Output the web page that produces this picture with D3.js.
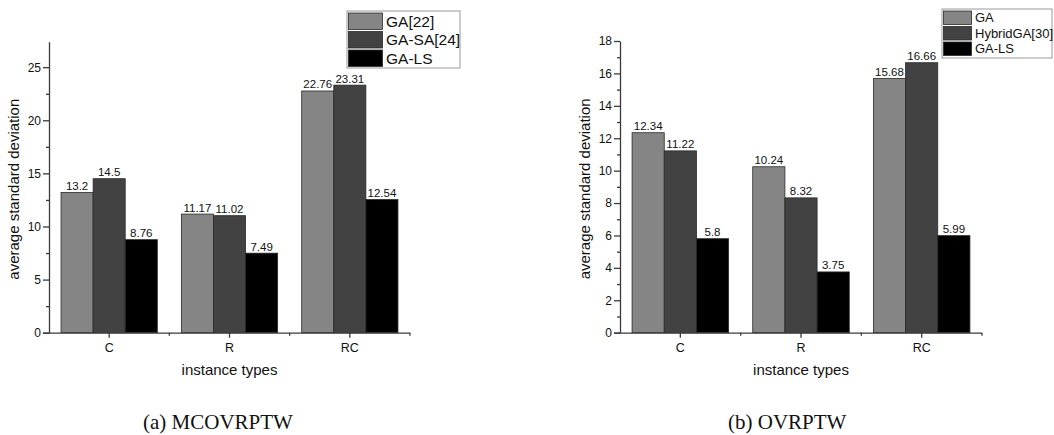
<!DOCTYPE html>
<html>
<head>
<meta charset="utf-8">
<script src="https://cdn.jsdelivr.net/npm/d3@7"></script>
<style>
  body { margin: 0; background: #fff; }
  svg { display: block; font-family: "Liberation Sans", Arial, sans-serif; }
</style>
</head>
<body>
<svg id="chart" width="1054" height="435"></svg>
<script>
// data
const categories = ["C", "R", "RC"];
const colors = ["#858585", "#424242", "#000000"];

const leftSeries = ["GA[22]", "GA-SA[24]", "GA-LS"];
const leftGA = [13.2, 11.17, 22.76];
const leftGASA = [14.5, 11.02, 23.31];
const leftGALS = [8.76, 7.49, 12.54];
const leftTicks = [0, 5, 10, 15, 20, 25];

const rightSeries = ["GA", "HybridGA[30]", "GA-LS"];
const rightGA = [12.34, 10.24, 15.68];
const rightHybrid = [11.22, 8.32, 16.66];
const rightGALS = [5.8, 3.75, 5.99];
const rightTicks = [0, 2, 4, 6, 8, 10, 12, 14, 16, 18];

const svg = d3.select("#chart");

function drawPanel(p) {
    const g = svg.append("g");
    const y = d3.scaleLinear().domain([0, p.yMax]).range([p.y0, p.yTop]);
    const x0 = d3.scaleBand().domain(categories).range([p.xl, p.xr]);
    const bw = x0.bandwidth();
    const x1 = d3.scaleBand().domain(p.series).range([0.1 * bw, 0.9 * bw]);

    // bars
    p.series.forEach((s, si) => {
        const vals = p.values[si];
        g.selectAll(null).data(categories).enter().append("rect")
            .attr("x", c => x0(c) + x1(s))
            .attr("y", (c, i) => y(vals[i]))
            .attr("width", x1.bandwidth())
            .attr("height", (c, i) => p.y0 - y(vals[i]))
            .attr("fill", colors[si])
            .attr("stroke", "#2a2a2a")
            .attr("stroke-width", 0.8);
        g.selectAll(null).data(categories).enter().append("text")
            .attr("x", c => x0(c) + x1(s) + x1.bandwidth() / 2)
            .attr("y", (c, i) => y(vals[i]) - 2.5)
            .attr("text-anchor", "middle")
            .attr("font-size", "11.5px")
            .attr("fill", "#111")
            .text((c, i) => vals[i]);
    });

    // y axis
    const yAxis = g.append("g").attr("transform", `translate(${p.xl},0)`)
        .call(d3.axisLeft(y).tickValues(p.ticks).tickSize(6).tickSizeOuter(0).tickPadding(2));
    g.append("g").attr("transform", `translate(${p.xl},0)`)
        .call(d3.axisLeft(y).tickValues(p.minor).tickSize(3).tickSizeOuter(0).tickFormat(""))
        .select(".domain").remove();
    yAxis.selectAll("text").attr("font-size", "12px").attr("fill", "#111");

    // x axis
    const xAxis = g.append("g").attr("transform", `translate(0,${p.y0})`)
        .call(d3.axisBottom(x0).tickSize(5).tickSizeOuter(0).tickPadding(5));
    xAxis.select(".domain").attr("d", `M${p.xl - 6},0.5H${p.xr}`);
    xAxis.selectAll("text").attr("font-size", "12.5px").attr("fill", "#111");
    const bounds = categories.map(c => x0(c)).concat([p.xr]).slice(1);
    xAxis.selectAll(".minor").data(bounds).enter().append("line")
        .attr("class", "minor")
        .attr("x1", d => d).attr("x2", d => d)
        .attr("y1", 0).attr("y2", 3);

    g.selectAll(".domain, .tick line, .minor")
        .attr("stroke", "#3a3a3a").attr("stroke-width", 1.3);

    // axis titles
    g.append("text")
        .attr("transform", `translate(${p.xl - 30},${(p.y0 + p.yTop) / 2 + 2}) rotate(-90)`)
        .attr("text-anchor", "middle")
        .attr("font-size", "15px")
        .attr("fill", "#111")
        .text("average standard deviation");
    g.append("text")
        .attr("x", (p.xl + p.xr) / 2)
        .attr("y", 375)
        .attr("text-anchor", "middle")
        .attr("font-size", "15px")
        .attr("fill", "#111")
        .text("instance types");

    // legend
    const L = p.legend;
    g.append("rect")
        .attr("x", L.x).attr("y", L.y).attr("width", L.w).attr("height", L.h)
        .attr("fill", "#fff").attr("stroke", "#999").attr("stroke-width", 1);
    p.series.forEach((s, si) => {
        const ry = L.y + 2 + si * L.step;
        g.append("rect")
            .attr("x", L.x + 1.5).attr("y", ry)
            .attr("width", L.sw).attr("height", L.step - 2)
            .attr("fill", colors[si]).attr("stroke", "#2a2a2a").attr("stroke-width", 0.8);
        g.append("text")
            .attr("x", L.x + L.sw + 5)
            .attr("y", ry + (L.step - 2) / 2 + L.fs * 0.36)
            .attr("font-size", L.fs + "px")
            .attr("fill", "#111")
            .text(s);
    });

    // caption
    svg.append("text")
        .attr("x", p.capX).attr("y", 429)
        .attr("font-family", "'Liberation Serif', 'Times New Roman', serif")
        .attr("font-size", "21px")
        .attr("fill", "#111")
        .style("white-space", "pre")
        .text(p.caption);
}

drawPanel({
    series: leftSeries,
    values: [leftGA, leftGASA, leftGALS],
    yMax: 27.4, ticks: leftTicks,
    minor: [2.5, 7.5, 12.5, 17.5, 22.5],
    xl: 49, xr: 410, y0: 332.7, yTop: 41.7,
    legend: { x: 347, y: 11, w: 113, h: 57, step: 18.5, sw: 34, fs: 15.5 },
    caption: "(a) MCOVRPTW", capX: 143
});

drawPanel({
    series: rightSeries,
    values: [rightGA, rightHybrid, rightGALS],
    yMax: 18, ticks: rightTicks,
    minor: [1, 3, 5, 7, 9, 11, 13, 15, 17],
    xl: 620, xr: 982, y0: 332.7, yTop: 41,
    legend: { x: 942, y: 9, w: 110, h: 49, step: 15.5, sw: 28, fs: 13 },
    caption: "(b) OVRPTW", capX: 728
});
</script>
</body>
</html>
